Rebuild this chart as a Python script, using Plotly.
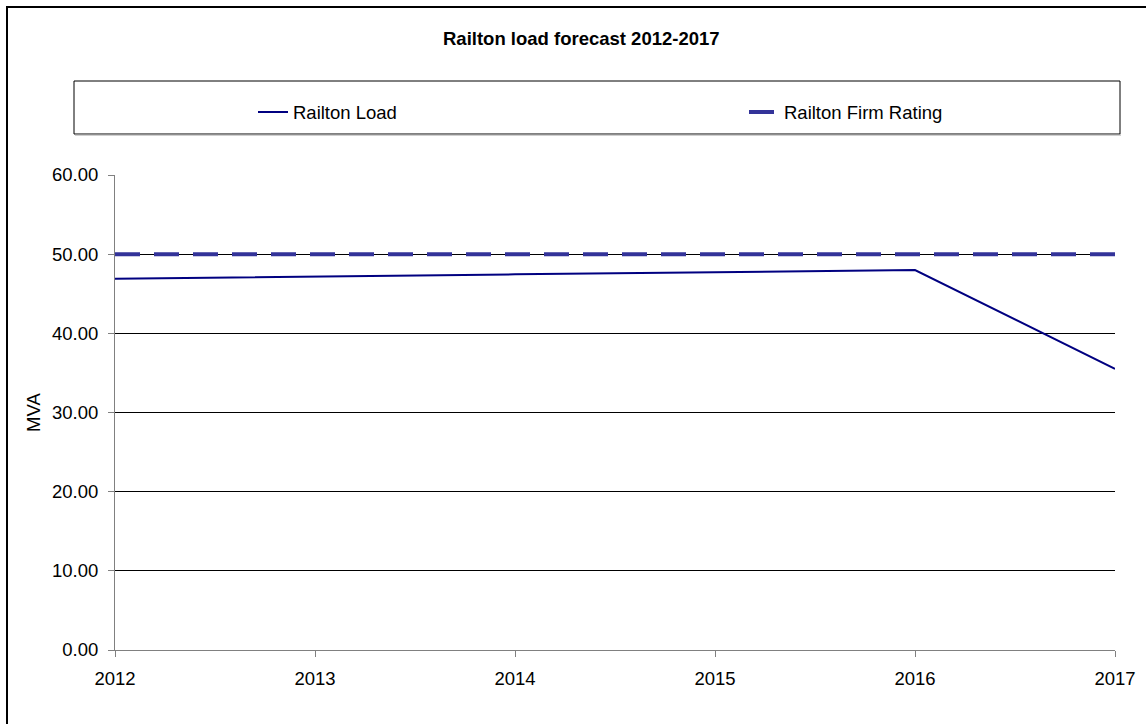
import plotly.graph_objects as go

years = [2012, 2013, 2014, 2015, 2016, 2017]
load = [46.9, 47.2, 47.45, 47.7, 48.0, 35.5]
firm = [50.0, 50.0, 50.0, 50.0, 50.0, 50.0]
y_ticks = [0, 10, 20, 30, 40, 50, 60]

FONT = "Arial, Liberation Sans, sans-serif"
W, H = 1146, 724
L, R, T, B = 115, 31, 175, 74
PW = W - L - R
PH = H - T - B

def px(x):
    return (x - L) / PW

def py(y):
    return (H - B - y) / PH

fig = go.Figure()
fig.add_trace(go.Scatter(x=years, y=load, mode="lines", name="Railton Load",
                         line=dict(color="#000080", width=2), legend="legend"))
fig.add_trace(go.Scatter(x=years, y=firm, mode="lines", name="Railton Firm Rating",
                         line=dict(color="#333399", width=4, dash="25px,14px"), legend="legend2"))

fig.update_layout(
    width=W, height=H,
    margin=dict(l=L, r=R, t=T, b=B, autoexpand=False),
    paper_bgcolor="white", plot_bgcolor="white",
    font=dict(family=FONT, size=18, color="black"),
    showlegend=True,
    legend=dict(x=px(253), y=py(112.5), xanchor="left", yanchor="middle",
                bgcolor="rgba(0,0,0,0)", font=dict(size=18.5, family=FONT)),
    legend2=dict(x=px(744), y=py(112.5), xanchor="left", yanchor="middle",
                 bgcolor="rgba(0,0,0,0)", font=dict(size=18.5, family=FONT)),
    xaxis=dict(range=[2012, 2017], tickmode="array", tickvals=years,
               ticktext=[str(y) for y in years],
               showgrid=False, zeroline=False, showline=True, linecolor="#808080", linewidth=1,
               ticks="outside", ticklen=6, tickcolor="#808080", tickwidth=1,
               tickfont=dict(size=18.5, family=FONT, color="black"), ticklabelstandoff=6),
    yaxis=dict(range=[0, 60], tickmode="array", tickvals=y_ticks,
               ticktext=[f"{v:.2f}" for v in y_ticks],
               showgrid=True, gridcolor="black", gridwidth=1, zeroline=False,
               showline=True, linecolor="#808080", linewidth=1,
               ticks="outside", ticklen=6, tickcolor="#808080", tickwidth=1,
               tickfont=dict(size=18.5, family=FONT, color="black"), ticklabelstandoff=6),
    annotations=[
        dict(text="<b>Railton load forecast 2012-2017</b>", x=px(581), y=py(39),
             xref="paper", yref="paper", xanchor="center", yanchor="middle",
             showarrow=False, font=dict(size=18.5, family=FONT, color="black")),
        dict(text="MVA", x=px(33), y=py(413), xref="paper", yref="paper",
             xanchor="center", yanchor="middle", textangle=-90,
             showarrow=False, font=dict(size=18.5, family=FONT, color="black")),
    ],
    shapes=[
        dict(type="rect", xref="paper", yref="paper", x0=px(7), x1=px(1200),
             y0=py(7), y1=py(760), line=dict(color="black", width=2), layer="below"),
        dict(type="rect", xref="paper", yref="paper", x0=px(74), x1=px(1120),
             y0=py(81), y1=py(134), line=dict(color="black", width=1), layer="below"),
        dict(type="line", xref="paper", yref="paper", x0=px(75), x1=px(1121),
             y0=py(135), y1=py(135), line=dict(color="#a0a0a0", width=1), layer="below"),
    ],
)

fig.write_html("out.html")
